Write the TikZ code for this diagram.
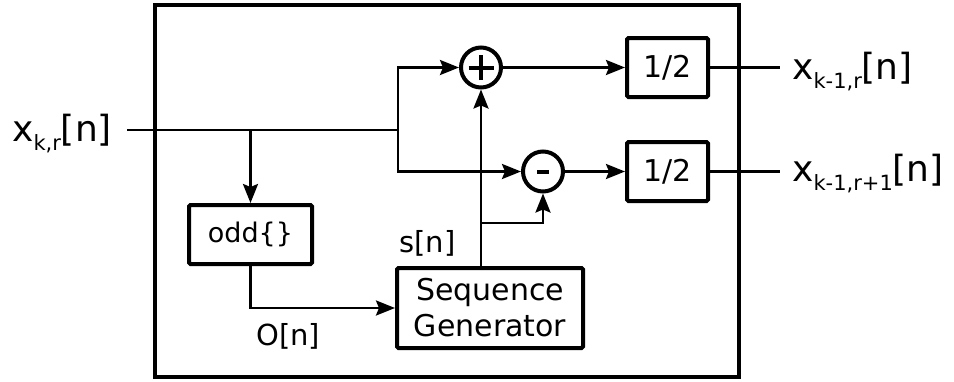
\documentclass[tikz,border=0pt]{standalone}
\usepackage{fontspec}
\setmainfont{DejaVu Sans}
\usetikzlibrary{arrows.meta}
\newcommand{\siglbl}[1]{{\fontsize{36}{40}\selectfont x\raisebox{-9pt}{\fontsize{21}{24}\selectfont #1}[n]}}
\tikzset{
  frame/.style={draw, line width=4pt},
  blk/.style={draw, line width=4pt, rounded corners=1.5pt, inner sep=0pt, minimum width=81pt, minimum height=59pt, font=\fontsize{30}{34}\selectfont},
  sumnode/.style={draw, circle, line width=4pt, minimum size=40pt, inner sep=0pt},
  wire/.style={line width=2.6pt},
  arr/.style={wire, -{Stealth[length=19pt,width=15pt,inset=3pt]}},
  lbl/.style={inner sep=0pt, font=\fontsize{29}{32}\selectfont},
}
\begin{document}
\begin{tikzpicture}[x=1pt,y=-1pt]
\useasboundingbox (0,0) rectangle (954,381);
\draw[frame] (154.7,4.7) rectangle (739,377);
% nodes
\node[inner sep=0pt, anchor=base west] (xin) at (12,141) {\siglbl{k,r}};
\node[sumnode] (plus) at (481,67.5) {};
\draw[line width=4pt] ([xshift=-12.5pt]plus.center) -- ([xshift=12.5pt]plus.center)
      ([yshift=-12.5pt]plus.center) -- ([yshift=12.5pt]plus.center);
\node[sumnode] (minus) at (543,171.5) {};
\draw[line width=4pt] ([xshift=-6pt]minus.center) -- ([xshift=6pt]minus.center);
\node[blk] (h1) at (667.5,67.5) {1/2};
\node[blk] (h2) at (667.5,171.5) {1/2};
\node[blk, minimum width=123pt] (odd) at (250.5,234.5) {\fontsize{27}{30}\selectfont odd\{\}};
\node[blk, minimum width=186pt, minimum height=80pt, align=center] (sg) at (490,308)
  {Sequence\\[2pt]Generator};
\node[inner sep=0pt, anchor=base west] (xo1) at (792,79) {\siglbl{k-1,r}};
\node[inner sep=0pt, anchor=base west] (xo2) at (792,181) {\siglbl{k-1,r+1}};
\node[lbl, anchor=base west] (sn) at (399,252) {s[n]};
\node[lbl, anchor=base west] (on) at (256,345) {O[n]};
% coordinates
\coordinate (inL) at (127,130);
\coordinate (split) at (398,130);
\coordinate (br) at (250.5,130);
\coordinate (o1) at (780,67.5);
\coordinate (o2) at (780,171.5);
\coordinate (sb) at (481,223);
% wires
\draw[wire] (inL) -- (split);
\draw[arr] (split) |- (plus.west);
\draw[arr] (split) |- (minus.west);
\draw[arr] (br) -- (odd.north);
\draw[arr] (odd.south) |- (sg.west);
\draw[arr] (sg.north -| plus.south) -- (plus.south);
\draw[arr] (sb) -| (minus.south);
\draw[arr] (plus.east) -- (h1.west);
\draw[arr] (minus.east) -- (h2.west);
\draw[wire] (h1.east) -- (o1);
\draw[wire] (h2.east) -- (o2);
\end{tikzpicture}
\end{document}
